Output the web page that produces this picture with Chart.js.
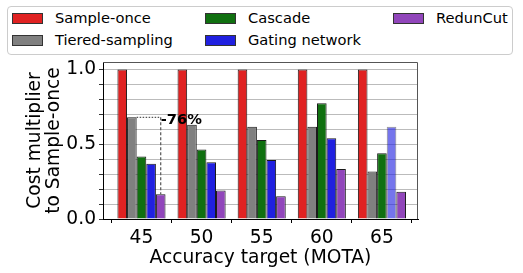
<!DOCTYPE html>
<html>
<head>
<meta charset="utf-8">
<script src="https://cdn.jsdelivr.net/npm/chart.js@4"></script>
<style>
  html, body { margin: 0; padding: 0; background: #fff; }
  #wrap { position: relative; width: 523px; height: 273px; font-family: 'DejaVu Sans', sans-serif; }
  #legend {
    position: absolute; left: 7px; top: 6px; width: 506px; height: 49px;
    border: 1px solid #cccccc; border-radius: 4px; background: #fff; box-sizing: border-box;
  }
  .item { position: absolute; height: 16px; font-size: 14.67px; line-height: 16px; color: #000; white-space: nowrap; }
  .swatch { position: absolute; left: 0; top: 2px; width: 29px; height: 9px; border: 1px solid #333; }
  .label { position: absolute; left: 43px; top: -1px; }
</style>
</head>
<body>
<div id="wrap">
  <canvas id="costChart" width="523" height="273"></canvas>
  <div id="legend"></div>
</div>
<script>
// Cost multiplier per accuracy target

const targets = [45, 50, 55, 60, 65];
const yTicks = [0, 0.1, 0.2, 0.3, 0.4, 0.5, 0.6, 0.7, 0.8, 0.9, 1.0];

const sampleOnce = [1.0, 1.0, 1.0, 1.0, 1.0];
const tieredSampling = [0.68, 0.63, 0.617, 0.617, 0.318];
const cascade = [0.418, 0.465, 0.528, 0.774, 0.44];
const gatingNetwork = [0.37, 0.38, 0.394, 0.54, 0.617];
const redunCut = [0.166, 0.19, 0.152, 0.335, 0.183];

const seriesNames = ['Sample-once', 'Tiered-sampling', 'Cascade', 'Gating network', 'RedunCut'];
const seriesColors = ['#e02222', '#808080', '#107010', '#2020e0', '#9146bb'];

const savingLabel = '-76%';

const FONT = "'DejaVu Sans', sans-serif";

function toPoints(values) {
  return values.map((v, i) => ({ x: targets[i], y: v }));
}

const allSeries = [sampleOnce, tieredSampling, cascade, gatingNetwork, redunCut];

const datasets = allSeries.map((values, i) => ({
  label: seriesNames[i],
  data: toPoints(values),
  backgroundColor: seriesColors[i],
  borderColor: '#1a1a1a',
  borderWidth: 1,
  categoryPercentage: 0.8,
  barPercentage: 1.0,
}));

// last gating network bar is drawn faded in the original
datasets[3].backgroundColor = targets.map((t, i) => (i === targets.length - 1 ? 'rgba(32,32,224,0.62)' : seriesColors[3]));
datasets[3].borderColor = targets.map((t, i) => (i === targets.length - 1 ? 'rgba(26,26,26,0.45)' : '#1a1a1a'));

/**
 * Legend in matplotlib style (column-major, 3 columns).
 */
function buildLegend() {
  const legend = document.getElementById('legend');
  const colX = [4, 197, 385];
  const rowY = [4, 26];
  seriesNames.forEach((name, i) => {
    const item = document.createElement('div');
    item.className = 'item';
    item.style.left = colX[Math.floor(i / 2)] + 'px';
    item.style.top = rowY[i % 2] + 'px';
    item.innerHTML = `<span class="swatch" style="background:${seriesColors[i]}"></span><span class="label">${name}</span>`;
    legend.appendChild(item);
  });
}

// Dotted guide from the Tiered-sampling bar to the RedunCut bar at 45
const annotationPlugin = {
  id: 'saving',
  afterDatasetsDraw(chart) {
    const ctx = chart.ctx;
    const gray = chart.getDatasetMeta(1).data[0];
    const purple = chart.getDatasetMeta(4).data[0];
    const x0 = gray.x + gray.width / 2;
    const y0 = gray.y;
    ctx.save();
    ctx.strokeStyle = '#555';
    ctx.lineWidth = 1.2;
    ctx.setLineDash([1.5, 1.5]);
    ctx.beginPath();
    ctx.moveTo(x0, y0);
    ctx.lineTo(purple.x, y0);
    ctx.stroke();
    ctx.setLineDash([3, 2]);
    ctx.beginPath();
    ctx.moveTo(purple.x, y0);
    ctx.lineTo(purple.x, purple.y);
    ctx.stroke();
    ctx.setLineDash([]);
    ctx.fillStyle = '#000';
    ctx.font = 'bold 14.67px ' + FONT;
    ctx.textBaseline = 'middle';
    ctx.textAlign = 'left';
    ctx.fillText(savingLabel, purple.x, y0 + 3);
    ctx.restore();
  },
  afterDraw(chart) {
    const { left, right, top, bottom } = chart.chartArea;
    const ctx = chart.ctx;
    ctx.save();
    ctx.strokeStyle = '#555';
    ctx.lineWidth = 1;
    ctx.beginPath();
    ctx.moveTo(left, top + 0.5);
    ctx.lineTo(right - 0.5, top + 0.5);
    ctx.lineTo(right - 0.5, bottom);
    ctx.stroke();
    ctx.restore();
  },
};

document.addEventListener('DOMContentLoaded', () => {
  buildLegend();
  const ctx = document.getElementById('costChart').getContext('2d');
  new Chart(ctx, {
    type: 'bar',
    data: { datasets },
    options: {
      responsive: false,
      animation: false,
      layout: { padding: { left: 0, top: 62, right: 105, bottom: 0 } },
      plugins: { legend: { display: false }, tooltip: { enabled: false } },
      scales: {
        x: {
          type: 'linear',
          offset: false,
          min: 41.8,
          max: 68.0,
          afterBuildTicks: (scale) => {
            scale.ticks = targets.map((v) => ({ value: v }));
          },
          afterFit: (scale) => {
            scale.height = 54;
          },
          grid: { drawOnChartArea: false, drawTicks: true, tickLength: 4, color: '#000' },
          border: { display: true, color: '#000', width: 1 },
          ticks: { color: '#000', font: { family: FONT, size: 18.67 }, padding: 4, maxRotation: 0 },
          title: {
            display: true,
            text: 'Accuracy target (MOTA)',
            color: '#000',
            font: { family: FONT, size: 18.67 },
            padding: { top: 0, bottom: 4 },
          },
        },
        y: {
          min: 0,
          max: 1.05,
          afterBuildTicks: (scale) => {
            scale.ticks = yTicks.map((v) => ({ value: v }));
          },
          afterFit: (scale) => {
            scale.width = 103;
          },
          grid: { color: '#bbbbbb', lineWidth: 1, tickLength: 4, tickColor: '#333' },
          border: { display: true, color: '#000', width: 1 },
          ticks: {
            color: '#000',
            font: { family: FONT, size: 18.67 },
            padding: 3,
            autoSkip: false,
            callback: (v) => (Math.round(v * 10) % 5 === 0 ? v.toFixed(1) : ''),
          },
          title: {
            display: true,
            text: ['Cost multiplier', 'to Sample-once'],
            color: '#000',
            font: { family: FONT, size: 18.67, lineHeight: 1.0 },
            padding: { top: 26, bottom: 0 },
          },
        },
      },
    },
    plugins: [annotationPlugin],
  });
});
</script>
</body>
</html>
